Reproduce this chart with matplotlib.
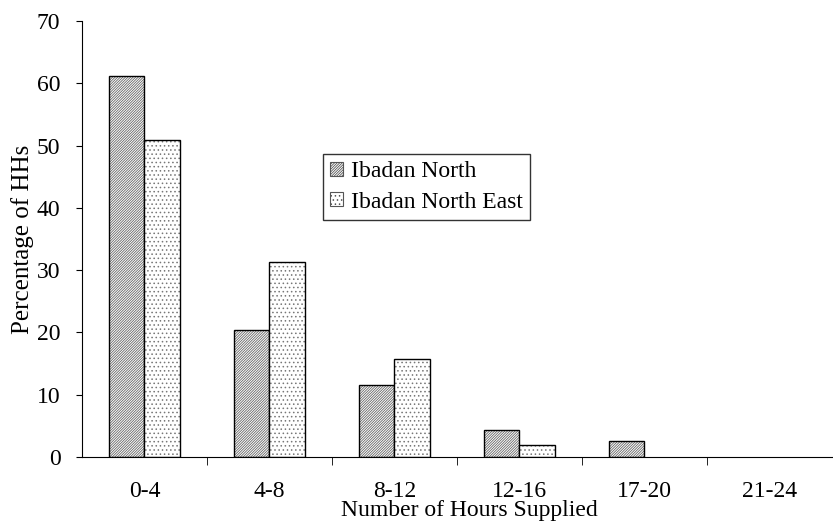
import numpy as np
import matplotlib
matplotlib.use("Agg")
import matplotlib.pyplot as plt

plt.rcParams['font.family'] = ['Liberation Serif', 'DejaVu Serif']
plt.rcParams['hatch.linewidth'] = 0.6

categories = ["0-4", "4-8", "8-12", "12-16", "17-20", "21-24"]
north = [61.1, 20.4, 11.5, 4.4, 2.6, 0]
north_east = [50.9, 31.3, 15.7, 1.9, 0, 0]

x = np.arange(len(categories))
w = 1 / 3.5

fig = plt.figure(figsize=(8.33, 5.25), dpi=100)
ax = fig.add_axes([0.0984, 0.1295, 0.9, 0.8305])

def draw(pos, vals, hatch, hcol, label):
    # hatch in grey, outline in black on top
    ax.bar(pos, vals, w, color='white', edgecolor=hcol, hatch=hatch, linewidth=0)
    lw = [1.0 if v > 0 else 0 for v in vals]
    ax.bar(pos, vals, w, fill=False, edgecolor='black', linewidth=lw)
    # proxy for legend
    ax.bar([0], [0], 0, color='white', edgecolor='#555555', hatch=hatch,
           linewidth=0.8, label=label)

draw(x - w/2, north, '/' * 13, '#666666', "Ibadan North")
draw(x + w/2, north_east, '.' * 4, '#777777', "Ibadan North East")

ax.set_xlim(-0.5, len(categories) - 0.5)
ax.set_ylim(0, 70)
ax.set_yticks(range(0, 71, 10))
ax.set_xticks(x)
ax.set_xticklabels(categories)
ax.set_xticks(np.arange(-0.5, len(categories), 1.0)[1:-1], minor=True)
ax.tick_params(axis='x', which='major', length=0, pad=17, labelsize=17)
ax.tick_params(axis='x', which='minor', length=6, direction='out')
ax.tick_params(axis='y', length=4.5, direction='out', labelsize=17, pad=11)

ax.spines['top'].set_visible(False)
ax.spines['right'].set_visible(False)

ax.set_xlabel("Number of Hours Supplied", fontsize=17)
ax.xaxis.set_label_coords(0.517, -0.098)
ax.set_ylabel("Percentage of HHs", fontsize=18, labelpad=2)

leg = ax.legend(loc='upper left', bbox_to_anchor=(0.321, 0.695), fontsize=17,
                frameon=True, fancybox=False, edgecolor='black',
                handlelength=0.55, handleheight=0.55, handletextpad=0.35,
                borderpad=0.3, labelspacing=0.4, borderaxespad=0)
leg.get_frame().set_linewidth(1.0)

plt.savefig('out.png', dpi=100)
